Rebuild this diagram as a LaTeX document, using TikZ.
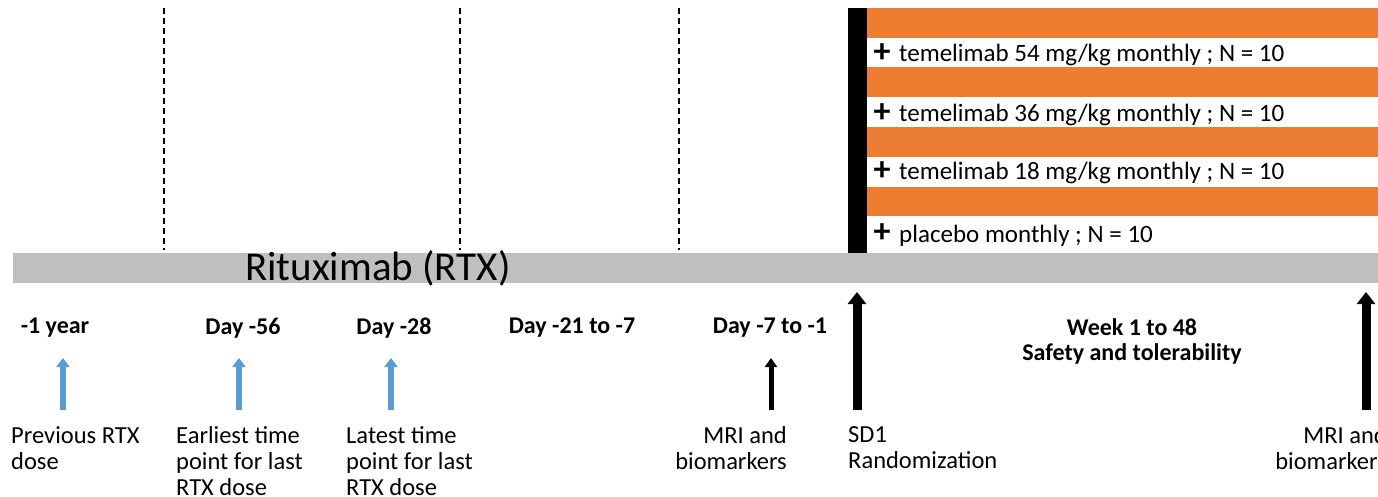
\documentclass[tikz,border=0pt]{standalone}
\usepackage{fontspec}
\setmainfont{Carlito}
\usetikzlibrary{arrows.meta,positioning}

\definecolor{armorange}{HTML}{ED7D31}
\definecolor{rtxgray}{HTML}{BFBFBF}
\definecolor{doseblue}{HTML}{5B9BD5}

\begin{document}
\begin{tikzpicture}[
		x=1pt, y=-1pt,
		every node/.style={inner sep=0pt},
		visit_label/.style={font=\fontsize{24.5}{26}\selectfont, align=left, anchor=north west},
		visit_label_right/.style={font=\fontsize{24.5}{26}\selectfont, align=right, anchor=north east},
		period_label/.style={font=\bfseries\fontsize{24}{25}\selectfont, align=center, anchor=north},
		arm_label/.style={font=\fontsize{25}{25}\selectfont, anchor=base west},
		arm_plus/.style={font=\bfseries\fontsize{34}{34}\selectfont},
		arm_bar/.style={fill=armorange, draw=none},
		window_line/.style={line width=1.6pt, dash pattern=on 6pt off 4pt},
		blue_arrow/.style={draw=doseblue, line width=6pt, -{Triangle[width=13pt,length=9pt]}},
		small_arrow/.style={draw=black, line width=5pt, -{Triangle[width=12pt,length=9pt]}},
		big_arrow/.style={draw=black, line width=9pt, -{Triangle[width=18pt,length=12pt]}}
		]
		\useasboundingbox (0,0) rectangle (1378,497);
		
		% --- RTX BACKGROUND BAR ---
		\fill[rtxgray] (13,253) rectangle (1378,283);
		\node[font=\fontsize{41}{41}\selectfont, anchor=base west] (rtx_label) at (245,280) {Rituximab (RTX)};
		
		% --- SCREENING WINDOWS (dashed) ---
		\coordinate (win1_top) at (164,8);   \coordinate (win1_bot) at (164,250);
		\coordinate (win2_top) at (460,8);   \coordinate (win2_bot) at (460,250);
		\coordinate (win3_top) at (679,8);   \coordinate (win3_bot) at (679,250);
		\draw[window_line] (win1_top) -- (win1_bot);
		\draw[window_line] (win2_top) -- (win2_bot);
		\draw[window_line] (win3_top) -- (win3_bot);
		
		% --- TREATMENT ARMS ---
		\fill[black] (848,8) rectangle (867,253);
		\fill[arm_bar] (867,8) rectangle (1378,38);
		\fill[arm_bar] (867,67) rectangle (1378,97);
		\fill[arm_bar] (867,127) rectangle (1378,157);
		\fill[arm_bar] (867,187) rectangle (1378,216);
		
		\node[arm_plus] (plus54) at (882,53) {+};
		\node[arm_label] (arm54) at (899,62) {temelimab 54 mg/kg monthly ; N = 10};
		\node[arm_plus] (plus36) at (882,113) {+};
		\node[arm_label] (arm36) at (899,122) {temelimab 36 mg/kg monthly ; N = 10};
		\node[arm_plus] (plus18) at (882,171) {+};
		\node[arm_label] (arm18) at (899,180) {temelimab 18 mg/kg monthly ; N = 10};
		\node[arm_plus] (plus_pbo) at (882,233) {+};
		\node[arm_label] (arm_pbo) at (899,242) {placebo monthly ; N = 10};
		
		% --- TIME POINTS ---
		\node[period_label] (t_year) at (55,318) {-1 year};
		\node[period_label] (t_56) at (243,318) {Day -56};
		\node[period_label] (t_28) at (394,318) {Day -28};
		\node[period_label] (t_21) at (572,318) {Day -21 to -7};
		\node[period_label] (t_7) at (770,318) {Day -7 to -1};
		\node[period_label] (t_week) at (1132,318) {Week 1 to 48\\Safety and tolerability};
		
		% --- VISIT DESCRIPTIONS ---
		\node[visit_label] (prev_dose) at (11,426) {Previous RTX\\dose};
		\node[visit_label] (earliest) at (176,426) {Earliest time\\point for last\\RTX dose};
		\node[visit_label] (latest) at (346,426) {Latest time\\point for last\\RTX dose};
		\node[visit_label_right] (mri_base) at (787,426) {MRI and\\biomarkers};
		\node[visit_label] (sd1) at (848,426) {SD1\\Randomization};
		\node[visit_label_right] (mri_end) at (1387,426) {MRI and\\biomarkers};
		
		% --- ARROWS ---
		\coordinate (prev_tail) at (63,410);      \coordinate (prev_tip) at (63,358);
		\coordinate (earliest_tail) at (239,410); \coordinate (earliest_tip) at (239,358);
		\coordinate (latest_tail) at (391,410);   \coordinate (latest_tip) at (391,358);
		\coordinate (mri_base_tail) at (771,410); \coordinate (mri_base_tip) at (771,358);
		\coordinate (sd1_tail) at (857,410);      \coordinate (sd1_tip) at (857,292);
		\coordinate (mri_end_tail) at (1366,410); \coordinate (mri_end_tip) at (1366,292);
		
		\draw[blue_arrow] (prev_tail) -- (prev_tip);
		\draw[blue_arrow] (earliest_tail) -- (earliest_tip);
		\draw[blue_arrow] (latest_tail) -- (latest_tip);
		\draw[small_arrow] (mri_base_tail) -- (mri_base_tip);
		\draw[big_arrow] (sd1_tail) -- (sd1_tip);
		\draw[big_arrow] (mri_end_tail) -- (mri_end_tip);
		
	\end{tikzpicture}
\end{document}
